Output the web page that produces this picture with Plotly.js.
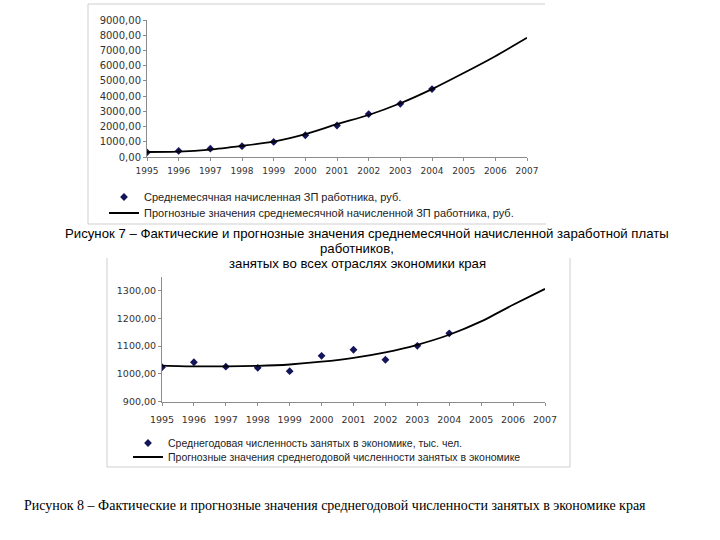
<!DOCTYPE html>
<html>
<head>
<meta charset="utf-8">
<script src="https://cdn.plot.ly/plotly-3.0.1.min.js"></script>
<style>html,body{margin:0;padding:0;background:#fff;}#chart{width:720px;height:540px;}</style>
</head>
<body>
<div id="chart"></div>
<script>
// ---- data ----
var years = [1995, 1996, 1997, 1998, 1999, 2000, 2001, 2002, 2003, 2004, 2005, 2006, 2007];
var actualYears = [1995, 1996, 1997, 1998, 1999, 2000, 2001, 2002, 2003, 2004];
var wageActual = [310, 400, 550, 710, 990, 1430, 2070, 2820, 3490, 4460];
var wageForecast = [330, 350, 485, 730, 1010, 1500, 2160, 2760, 3530, 4460, 5515, 6620, 7830];
var employActual = [1024, 1042, 1026, 1022, 1010, 1065, 1087, 1051, 1101, 1146];
var employForecast = [1030, 1027, 1027, 1029, 1034, 1044, 1058, 1078, 1105, 1141, 1189, 1249, 1306];

var wageActualName = "Среднемесячная начисленная ЗП работника, руб.";
var wageForecastName = "Прогнозные значения среднемесячной начисленной ЗП работника, руб.";
var employActualName = "Среднегодовая численность занятых в экономике, тыс. чел.";
var employForecastName = "Прогнозные значения среднегодовой численности занятых в экономике";

var caption7 = ["Рисунок 7 – Фактические и прогнозные значения среднемесячной начисленной заработной платы",
                "работников,",
                "занятых во всех отраслях экономики края"];
var caption8 = "Рисунок 8 – Фактические и прогнозные значения среднегодовой численности занятых в экономике края";

// ---- helpers: pixel -> paper ----
var W = 720, H = 540;
function px(x) { return x / W; }
function py(y) { return 1 - y / H; }

var markerColor = "#14145a";
var axisColor = "#8c8c8c";
var sans = "Liberation Sans, Arial, sans-serif";
var tickFont = "DejaVu Sans, Verdana, sans-serif";

var traces = [
  {x: actualYears, y: wageActual, type: "scatter", mode: "markers", name: wageActualName,
   marker: {symbol: "diamond", size: 6, color: markerColor}, xaxis: "x", yaxis: "y", legend: "legend"},
  {x: years, y: wageForecast, type: "scatter", mode: "lines", name: wageForecastName,
   line: {color: "#000", width: 1.8, shape: "spline", smoothing: 0.6}, xaxis: "x", yaxis: "y", legend: "legend2"},
  {x: actualYears, y: employActual, type: "scatter", mode: "markers", name: employActualName,
   marker: {symbol: "diamond", size: 6, color: markerColor}, xaxis: "x2", yaxis: "y2", legend: "legend3"},
  {x: years, y: employForecast, type: "scatter", mode: "lines", name: employForecastName,
   line: {color: "#000", width: 1.8, shape: "spline", smoothing: 0.6}, xaxis: "x2", yaxis: "y2", legend: "legend4"}
];

function xAxis(domain, anchor, fontSize, standoff) {
  return {
    domain: domain, anchor: anchor, range: [1995, 2007], tickmode: "array", tickvals: years,
    ticktext: years.map(String), ticklabelstandoff: standoff,
    showgrid: false, zeroline: false, showline: true, linecolor: axisColor, linewidth: 1,
    ticks: "outside", ticklen: 3, tickcolor: axisColor,
    tickfont: {family: tickFont, size: fontSize, color: "#333"}, fixedrange: true
  };
}
function yAxis(domain, anchor, range, dtick, fontSize) {
  return {
    domain: domain, anchor: anchor, range: range, tick0: range[0], dtick: dtick, tickformat: ".2f",
    showgrid: false, zeroline: false, showline: true, linecolor: axisColor, linewidth: 1,
    ticks: "outside", ticklen: 3, tickcolor: axisColor,
    tickfont: {family: tickFont, size: fontSize, color: "#333"}, fixedrange: true
  };
}

function legendAt(x, y, size) {
  return {x: px(x), y: py(y), xanchor: "left", yanchor: "middle", bgcolor: "rgba(0,0,0,0)",
          borderwidth: 0, font: {family: sans, size: size, color: "#222"}, itemclick: false};
}

var frameColor = "#cfcfcf";
function seg(x0, y0, x1, y1) {
  return {type: "line", xref: "paper", yref: "paper", x0: px(x0), y0: py(y0), x1: px(x1), y1: py(y1),
          line: {color: frameColor, width: 1}};
}

var layout = {
  width: W, height: H, margin: {l: 0, r: 0, t: 0, b: 0},
  paper_bgcolor: "#fff", plot_bgcolor: "rgba(0,0,0,0)",
  separators: ", ",
  showlegend: true,
  xaxis: xAxis([px(147), px(527)], "y", 9, 2),
  yaxis: yAxis([py(157), py(20)], "x", [0, 9000], 1000, 10),
  xaxis2: xAxis([px(162), px(545)], "y2", 9.5, 6),
  yaxis2: yAxis([py(401.7), py(276.7)], "x2", [900, 1350], 100, 9.5),
  legend: legendAt(104, 197, 11),
  legend2: legendAt(104, 213, 11),
  legend3: legendAt(128, 443, 10.5),
  legend4: legendAt(128, 457, 10.5),
  shapes: [
    seg(88, 4, 88, 224), seg(88, 4, 545, 4), seg(88, 224, 546, 224),
    seg(107, 258, 107, 467), seg(107, 467, 570, 467), seg(570, 258, 570, 467)
  ],
  annotations: [
    {text: caption7[0], xref: "paper", yref: "paper", x: px(367), y: py(233), xanchor: "center", yanchor: "middle",
     showarrow: false, font: {family: sans, size: 13.2, color: "#000"}},
    {text: caption7[1], xref: "paper", yref: "paper", x: px(357), y: py(248), xanchor: "center", yanchor: "middle",
     showarrow: false, font: {family: sans, size: 13.2, color: "#000"}},
    {text: caption7[2], xref: "paper", yref: "paper", x: px(357), y: py(263), xanchor: "center", yanchor: "middle",
     showarrow: false, font: {family: sans, size: 13.2, color: "#000"}},
    {text: caption8, xref: "paper", yref: "paper", x: px(22), y: py(505), xanchor: "left", yanchor: "middle",
     showarrow: false, font: {family: "Liberation Serif, Times New Roman, serif", size: 14, color: "#000"}}
  ]
};

Plotly.newPlot("chart", traces, layout, {displayModeBar: false, staticPlot: true});
</script>
</body>
</html>
